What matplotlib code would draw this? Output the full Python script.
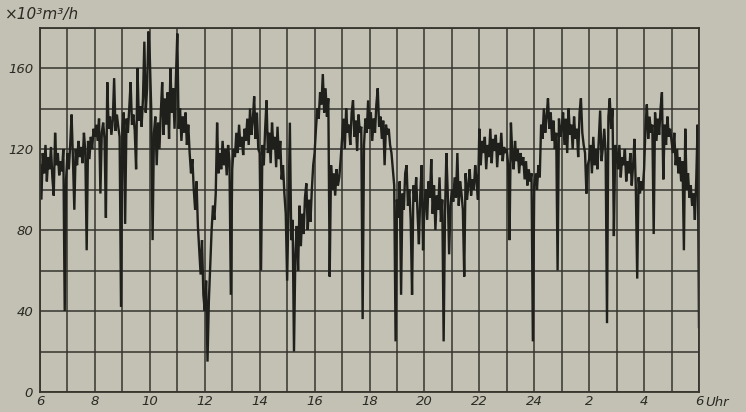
import numpy as np
import matplotlib
matplotlib.use('Agg')
import matplotlib.pyplot as plt

# ==============================
# Gasabgabe 6 Uhr bis 6 Uhr (x10^3 m3/h), 20 Werte je Stunde
# ==============================

flow_06_12 = [
    112, 95, 118, 108, 122, 104, 116, 110, 121, 106, 97, 128, 112, 118, 107, 114, 109, 120, 40, 105,
    118, 110, 122, 137, 115, 90, 120, 112, 124, 116, 121, 113, 128, 119, 70, 124, 115, 126, 120, 130,
    126, 132, 124, 135, 98, 128, 133, 125, 86, 153, 130, 136, 127, 134, 155, 129, 137, 131, 126, 42,
    130, 138, 83, 135, 128, 140, 153, 132, 137, 129, 110, 160, 134, 141, 131, 145, 173, 138, 150, 178,
    165, 140, 75, 128, 136, 112, 133, 120, 138, 153, 127, 145, 132, 148, 125, 160, 138, 150, 130, 155,
    177, 130, 140, 124, 136, 128, 138, 122, 132, 118, 108, 115, 100, 90, 104, 82, 70, 58, 75, 48,
]
flow_12_18 = [
    40, 55, 15, 45, 62, 80, 92, 85, 98, 133, 108, 118, 110, 124, 112, 120, 107, 122, 114, 48,
    110, 120, 116, 128, 118, 132, 121, 126, 117, 130, 124, 135, 122, 140, 127, 134, 146, 125, 138, 120,
    118, 60, 122, 112, 130, 144, 118, 128, 113, 133, 120, 126, 111, 131, 115, 124, 105, 112, 98, 88,
    55, 90, 133, 75, 85, 20, 68, 82, 60, 92, 72, 88, 78, 96, 103, 80, 95, 84, 100, 112,
    118, 130, 140, 135, 148, 142, 157, 138, 150, 136, 145, 57, 112, 100, 108, 97, 110, 102, 106, 115,
    125, 135, 120, 140, 128, 132, 122, 138, 144, 126, 134, 119, 137, 128, 131, 36, 122, 135, 128, 144,
]
flow_18_24 = [
    130, 138, 124, 135, 128, 142, 150, 131, 136, 125, 134, 112, 132, 127, 130, 122, 118, 110, 102, 25,
    95, 86, 104, 48, 98, 90, 108, 112, 92, 100, 85, 48, 102, 94, 106, 88, 73, 98, 112, 70,
    92, 100, 85, 104, 96, 115, 88, 102, 80, 97, 90, 106, 84, 95, 25, 88, 118, 98, 68, 92,
    100, 94, 106, 96, 118, 92, 104, 98, 90, 57, 108, 95, 102, 110, 97, 105, 100, 112, 104, 95,
    130, 112, 124, 118, 126, 110, 122, 116, 130, 113, 125, 119, 127, 111, 123, 117, 128, 114, 121, 118,
    120, 112, 75, 133, 118, 110, 124, 114, 120, 108, 118, 112, 116, 105, 114, 102, 110, 104, 108, 25,
]
flow_24_06 = [
    102, 108, 100, 112, 106, 132, 125, 140, 128, 136, 145, 130, 138, 124, 134, 120, 128, 60, 135, 126,
    130, 138, 122, 135, 118, 140, 127, 132, 120, 136, 125, 130, 116, 138, 145, 128, 122, 118, 98, 112,
    115, 122, 108, 126, 112, 120, 110, 124, 139, 114, 121, 130, 118, 34, 136, 145, 130, 140, 77, 122,
    118, 110, 122, 106, 116, 112, 120, 104, 114, 108, 118, 102, 112, 125, 100, 56, 106, 98, 104, 100,
    110, 130, 142, 125, 136, 128, 132, 78, 138, 124, 135, 127, 140, 148, 105, 132, 122, 136, 126, 130,
    124, 118, 128, 112, 120, 108, 116, 104, 114, 70, 130, 100, 108, 96, 102, 92, 98, 85, 105, 132,
    32,
]

start_hour = 6
samples_per_hour = 20
x_ticks = [6, 8, 10, 12, 14, 16, 18, 20, 22, 24, 26, 28, 30]
x_labels = ['6', '8', '10', '12', '14', '16', '18', '20', '22', '24', '2', '4', '6']
y_ticks = [0, 40, 80, 120, 160]

flow = np.array(flow_06_12 + flow_12_18 + flow_18_24 + flow_24_06)
t = start_hour + np.arange(len(flow)) / samples_per_hour

paper = '#c2c1b3'
ink = '#1f1f1b'

fig = plt.figure(figsize=(7.46, 4.12), dpi=100, facecolor=paper)
ax = fig.add_axes([40/746, 1 - 392/412, 659/746, 364.5/412], facecolor=paper)

ax.plot(t, flow, color=ink, lw=1.7, solid_joinstyle='miter')

ax.set_xlim(6, 30)
ax.set_ylim(0, 180)
ax.set_xticks(x_ticks)
ax.set_xticklabels(x_labels)
ax.set_yticks(y_ticks)
ax.set_xticks(np.arange(6, 31, 1), minor=True)
ax.set_yticks(np.arange(0, 181, 20), minor=True)
ax.grid(True, which='both', color='#35352e', lw=1.1)
ax.tick_params(which='both', length=0)
ax.tick_params(axis='x', pad=2)
ax.tick_params(axis='y', pad=5)
for lab in ax.get_xticklabels() + ax.get_yticklabels():
    lab.set_fontstyle('italic')
    lab.set_fontsize(9.5)
    lab.set_color('#2a2a25')
for s in ax.spines.values():
    s.set_color('#35352e')
    s.set_linewidth(1.3)

fig.text(5/746, 1 - 14/412, '×10³m³/h', fontsize=11, style='italic', color='#2a2a25', va='center')
fig.text(705/746, 1 - 403/412, 'Uhr', fontsize=9.5, style='italic', color='#2a2a25', va='center')

plt.savefig('out.png', dpi=100, facecolor=paper)
